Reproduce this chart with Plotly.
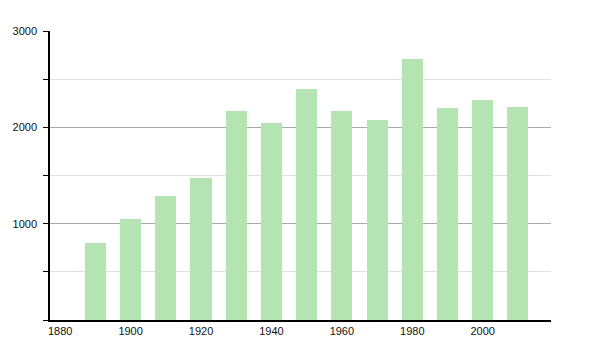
import plotly.graph_objects as go

years = [1890, 1900, 1910, 1920, 1930, 1940, 1950, 1960, 1970, 1980, 1990, 2000, 2010]
population = [800, 1049, 1290, 1476, 2171, 2050, 2396, 2171, 2078, 2707, 2205, 2285, 2212]
x_ticks = [1880, 1900, 1920, 1940, 1960, 1980, 2000]
y_ticks = [1000, 2000, 3000]

fig = go.Figure(go.Bar(
    x=years, y=population, width=6,
    marker=dict(color="rgb(179,228,178)", line=dict(width=0)),
    hoverinfo="x+y",
))

fig.update_layout(
    width=600, height=350,
    margin=dict(l=50, r=49, t=31, b=30),
    paper_bgcolor="white", plot_bgcolor="white",
    font=dict(family="Liberation Sans, Arial, sans-serif", size=11, color="#111"),
    showlegend=False,
    bargap=0,
)
fig.update_xaxes(
    range=[1877.1, 2019.4], tickvals=x_ticks, ticktext=[str(t) for t in x_ticks],
    showgrid=False, zeroline=False, showline=True, linecolor="black", linewidth=1.5,
    ticks="", ticklen=0, automargin=False,
)
fig.update_yaxes(
    range=[0, 3000], tickvals=y_ticks, ticktext=[str(t) for t in y_ticks],
    showgrid=True, gridcolor="#aaaaaa", gridwidth=1,
    zeroline=False, showline=True, linecolor="black", linewidth=1.5,
    ticks="", ticklen=0, ticklabelstandoff=9, automargin=False,
    minor=dict(dtick=500, tick0=0, showgrid=True, gridcolor="#e2e2e2", gridwidth=1,
               ticks="outside", ticklen=5, tickcolor="black"),
)

fig.write_html("out.html")
